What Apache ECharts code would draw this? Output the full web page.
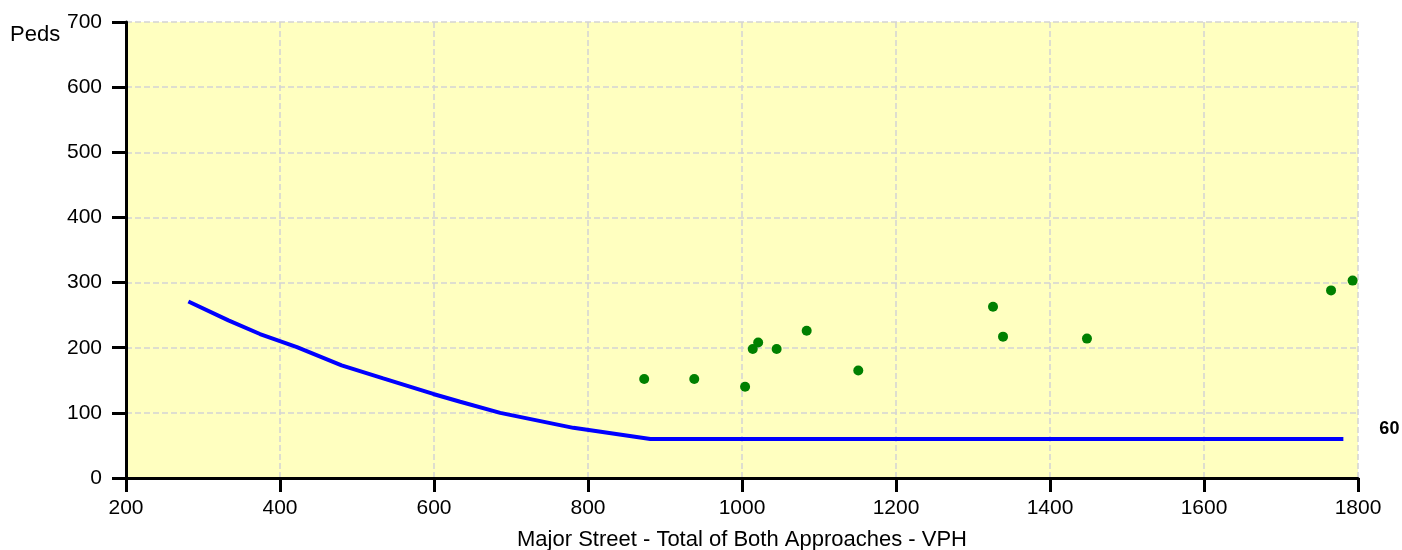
<!DOCTYPE html>
<html>
<head>
<meta charset="utf-8">
<script src="https://cdn.jsdelivr.net/npm/echarts@6/dist/echarts.min.js"></script>
<style>
html,body{margin:0;padding:0;background:#fff;}
#c{width:1402px;height:550px;}
</style>
</head>
<body>
<div id="c"></div>
<script>
// Threshold curve
const curveX = [281, 333, 374, 422, 480, 534, 599, 634, 686, 781, 881, 1781];
const curveY = [271, 242, 221, 201, 173, 153, 129, 117, 100, 77, 60, 60];
// Observed points
const pointX = [873, 938, 1004, 1014, 1021, 1045, 1084, 1151, 1326, 1339, 1448, 1765, 1793];
const pointY = [152, 152, 140, 198, 208, 198, 226, 165, 263, 217, 214, 288, 303];
const xTicks = [200, 1800, 200];   // min, max, interval
const yTicks = [0, 700, 100];
const xTitle = 'Major Street - Total of Both Approaches - VPH';
const yTitle = 'Peds';

const chart = echarts.init(document.getElementById('c'));
const font = 'Liberation Sans, Arial, sans-serif';
const gridLine = {show: true, lineStyle: {color: '#d3d3d3', width: 1.5, type: [6, 3]}};
chart.setOption({
  animation: false,
  backgroundColor: '#ffffff',
  grid: {left: 126, right: 44, top: 22, bottom: 72, show: true, backgroundColor: '#ffffc0', borderWidth: 0,
         containLabel: false, outerBoundsMode: 'none'},
  xAxis: {
    type: 'value', min: xTicks[0], max: xTicks[1], interval: xTicks[2],
    name: xTitle, nameLocation: 'middle', nameGap: 51,
    nameTextStyle: {fontFamily: font, fontSize: 22, color: '#000'},
    axisLine: {show: true, onZero: false, lineStyle: {color: '#000', width: 3}},
    axisTick: {show: true, length: 14, lineStyle: {color: '#000', width: 3}},
    axisLabel: {fontFamily: font, fontSize: 21, color: '#000', margin: 20, formatter: v => String(v)},
    splitLine: gridLine
  },
  yAxis: {
    type: 'value', min: yTicks[0], max: yTicks[1], interval: yTicks[2],
    axisLine: {show: true, onZero: false, lineStyle: {color: '#000', width: 3}},
    axisTick: {show: true, length: 14, lineStyle: {color: '#000', width: 3}},
    axisLabel: {fontFamily: font, fontSize: 21, color: '#000', margin: 24, formatter: v => String(v)},
    splitLine: gridLine
  },
  graphic: [{
    type: 'text', left: 10, top: 24,
    style: {text: yTitle, fontFamily: font, fontSize: 22, fill: '#000'}
  }],
  series: [{
    type: 'line',
    data: curveX.map((x, i) => [x, curveY[i]]),
    showSymbol: false, symbol: 'none',
    lineStyle: {color: '#0000ff', width: 4},
    endLabel: {
      show: true, formatter: p => String(p.value[1]),
      fontFamily: font, fontSize: 18, fontWeight: 'bold', color: '#000',
      distance: 36, offset: [0, -10]
    },
    z: 3
  }, {
    type: 'scatter',
    data: pointX.map((x, i) => [x, pointY[i]]),
    symbol: 'circle', symbolSize: 10,
    itemStyle: {color: '#008000', opacity: 1},
    z: 4
  }]
});
</script>
</body>
</html>
